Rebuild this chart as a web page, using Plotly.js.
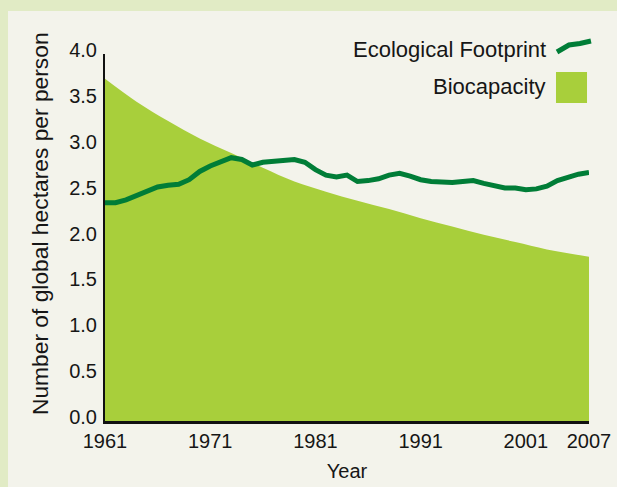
<!DOCTYPE html>
<html><head><meta charset="utf-8">
<script src="https://cdn.plot.ly/plotly-3.0.1.min.js"></script>
<style>
html,body{margin:0;padding:0;background:#e1ebc5;width:617px;height:487px;overflow:hidden}
#chart{position:absolute;left:8px;top:11px;width:609px;height:476px}
</style></head><body><div id="chart"></div>
<script>
// Ecological Footprint (global hectares per person)
const years = [1961,1962,1963,1964,1965,1966,1967,1968,1969,1970,1971,1972,1973,1974,1975,1976,1977,1978,1979,1980,1981,1982,1983,1984,1985,1986,1987,1988,1989,1990,1991,1992,1993,1994,1995,1996,1997,1998,1999,2000,2001,2002,2003,2004,2005,2006,2007];
const footprint = [2.38,2.38,2.41,2.46,2.51,2.55,2.57,2.58,2.63,2.72,2.78,2.82,2.87,2.85,2.79,2.82,2.83,2.83,2.85,2.82,2.74,2.68,2.66,2.68,2.61,2.62,2.64,2.68,2.70,2.67,2.63,2.61,2.60,2.60,2.61,2.62,2.59,2.56,2.54,2.54,2.52,2.53,2.56,2.62,2.66,2.69,2.71];
// Biocapacity (global hectares per person)
const bioYears = [1961,1964,1967,1970,1973,1976,1979,1982,1985,1988,1991,1994,1997,2000,2003,2007];
const biocapacity = [3.73,3.48,3.27,3.08,2.92,2.76,2.61,2.50,2.40,2.31,2.21,2.12,2.03,1.95,1.87,1.79];
const xTickVals = [1961,1971,1981,1991,2001,2007];
const xTickText = ['1961','1971','1981','1991','2001','2007'];
const yTickVals = [0,0.5,1,1.5,2,2.5,3,3.5,4];
const yTickText = ['0.0','0.5','1.0','1.5','2.0','2.5','3.0','3.5','4.0'];
const seriesNames = ['Ecological Footprint','Biocapacity'];

const FONT = 'Liberation Sans, Arial, Helvetica, sans-serif';
const TXT = '#161616';
const LINE_C = '#007d37';
const FILL_C = '#a8cf3b';

const traces = [
  {x: bioYears, y: biocapacity, type:'scatter', mode:'lines', name: seriesNames[1],
   line:{width:0, shape:'spline', smoothing:1, color:FILL_C}, fill:'tozeroy', fillcolor:FILL_C,
   hoverinfo:'skip', showlegend:false},
  {x: years, y: footprint, type:'scatter', mode:'lines', name: seriesNames[0],
   line:{width:5, color:LINE_C}, showlegend:false, cliponaxis:false}
];

const layout = {
  width:609, height:476,
  margin:{l:97, r:28, t:43, b:66},
  paper_bgcolor:'#f3f3eb', plot_bgcolor:'#f3f3eb',
  font:{family:FONT, color:TXT, size:20},
  showlegend:false,
  xaxis:{range:[1961,2007], tickvals:xTickVals, ticktext:xTickText, showgrid:false, zeroline:false,
         showline:true, linecolor:'#111', linewidth:2.5, ticks:'', tickfont:{size:20},
         title:{text:'Year', font:{size:20}, standoff:14}},
  yaxis:{range:[0,4], tickvals:yTickVals, ticktext:yTickText, showgrid:false, zeroline:false,
         showline:true, linecolor:'#111', linewidth:2, ticks:'', tickfont:{size:20},
         ticklabelshift:-4, ticklabelstandoff:2},
  annotations:[
    {xref:'paper', yref:'paper', x:-0.134, y:0.537, text:'Number of global hectares per person',
     textangle:-90, showarrow:false, xanchor:'center', yanchor:'middle', font:{size:22.8}},
    {xref:'paper', yref:'paper', x:0.9153, y:1.0136, text:seriesNames[0], showarrow:false,
     xanchor:'right', yanchor:'middle', font:{size:22}},
    {xref:'paper', yref:'paper', x:0.9153, y:0.9101, text:seriesNames[1], showarrow:false,
     xanchor:'right', yanchor:'middle', font:{size:22}}
  ],
  shapes:[
    {type:'path', xref:'paper', yref:'paper',
     path:'M 0.9339 1.0054 L 0.9587 1.0245 L 0.9814 1.0286 L 1.0041 1.0354',
     line:{color:LINE_C, width:5}},
    {type:'rect', xref:'paper', yref:'paper', x0:0.9318, x1:0.9959, y0:0.8665, y1:0.9510,
     line:{width:0}, fillcolor:FILL_C}
  ]
};

Plotly.newPlot('chart', traces, layout, {displayModeBar:false, staticPlot:true});
</script></body></html>
